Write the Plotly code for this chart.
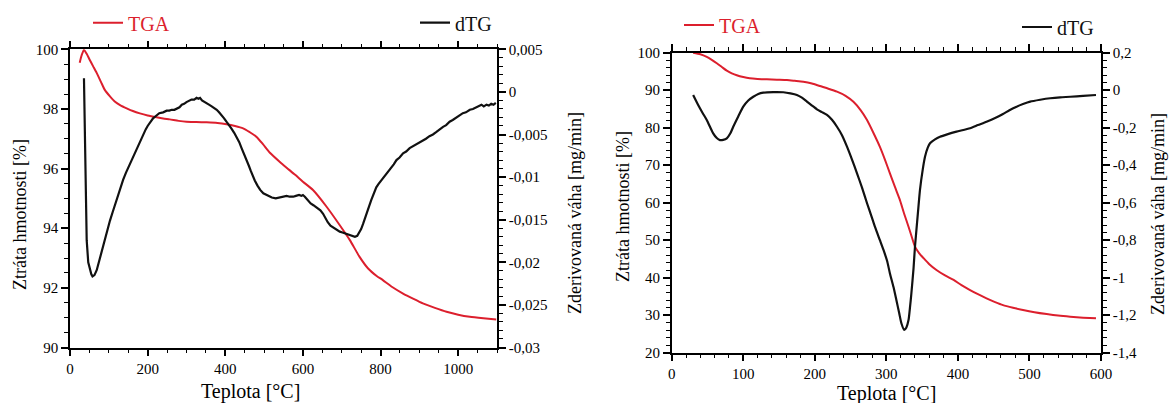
import plotly.graph_objects as go

# ---------------- data ----------------
# Left panel: temperature [°C] and TGA [%]
t_tga_left = [25, 30, 36, 43, 51, 60, 69, 80, 90, 103, 116, 130, 146, 162, 180, 200, 223, 240,
              257, 280, 300, 325, 352, 380, 403, 425, 446, 463, 480, 497, 515, 540, 558, 580,
              600, 626, 661, 695, 721, 746, 768, 790, 806, 830, 858, 885, 909, 940, 970, 1000,
              1030, 1065, 1098]
tga_left = [99.55, 99.8, 99.98, 99.85, 99.64, 99.42, 99.2, 98.9, 98.63, 98.42, 98.24, 98.12,
            98.02, 97.93, 97.85, 97.78, 97.72, 97.68, 97.65, 97.6, 97.57, 97.56, 97.55, 97.53,
            97.49, 97.43, 97.35, 97.22, 97.07, 96.82, 96.53, 96.23, 96.03, 95.79, 95.56, 95.28,
            94.72, 94.1, 93.6, 93.04, 92.65, 92.4, 92.26, 92.03, 91.81, 91.63, 91.48, 91.33,
            91.2, 91.1, 91.03, 90.98, 90.94]

# Left panel: dTG [mg/min]
t_dtg_left = [36, 40, 43, 47, 51, 55, 58, 63, 69, 78, 86, 95, 103, 110, 116, 123, 129, 137, 144,
              152, 159, 166, 174, 182, 189, 195, 200, 207, 214, 222, 230, 240, 249, 256, 262,
              269, 275, 282, 288, 294, 300, 306, 313, 320, 326, 331, 335, 340, 346, 352, 358,
              365, 372, 378, 384, 390, 397, 403, 410, 416, 423, 429, 436, 442, 449, 455, 461,
              466, 471, 476, 483, 490, 498, 506, 513, 520, 530, 540, 549, 558, 566, 575, 582,
              590, 596, 600, 605, 610, 615, 620, 627, 633, 639, 645, 652, 658, 664, 671, 677,
              683, 689, 695, 702, 708, 715, 721, 728, 734, 740, 746, 750, 755, 760, 764, 770,
              776, 782, 789, 795, 802, 808, 815, 821, 828, 834, 841, 849, 858, 866, 875, 883,
              892, 900, 909, 917, 926, 935, 944, 952, 961, 969, 978, 986, 995, 1003, 1012,
              1020, 1030, 1038, 1047, 1053, 1060, 1066, 1073, 1079, 1085, 1091, 1097]
dtg_left = [0.0016, -0.0080, -0.0174, -0.0200, -0.0209, -0.0214, -0.02165, -0.0215, -0.0209,
            -0.0193, -0.0178, -0.0163, -0.0151, -0.0141, -0.0132, -0.0121, -0.0112, -0.0103,
            -0.0095, -0.0087, -0.0080, -0.0071, -0.0063, -0.0056, -0.0049, -0.0044, -0.0040,
            -0.0035, -0.0031, -0.0028, -0.0025, -0.0024, -0.0022, -0.0022, -0.0021, -0.0021,
            -0.0020, -0.0018, -0.0015, -0.0014, -0.0012, -0.0011, -0.0009, -0.0009, -0.0007,
            -0.0008, -0.0007, -0.0010, -0.0012, -0.0014, -0.0015, -0.0017, -0.0019, -0.0021,
            -0.0024, -0.0027, -0.0031, -0.0035, -0.0039, -0.0043, -0.0048, -0.0053, -0.0059,
            -0.0066, -0.0073, -0.0080, -0.0087, -0.0093, -0.0099, -0.0104, -0.0110, -0.0115,
            -0.0119, -0.0121, -0.0123, -0.0124, -0.0125, -0.0124, -0.0123, -0.0122, -0.0123,
            -0.0123, -0.0122, -0.0121, -0.0122, -0.0121, -0.0123, -0.0126, -0.0128, -0.0131,
            -0.0133, -0.0135, -0.0136, -0.0139, -0.0143, -0.0148, -0.0153, -0.0157, -0.0159,
            -0.0161, -0.0163, -0.0164, -0.0165, -0.0166, -0.0167, -0.0168, -0.0169, -0.0170,
            -0.0169, -0.0165, -0.0161, -0.0155, -0.0149, -0.0143, -0.0135, -0.0127, -0.0119,
            -0.0112, -0.0108, -0.0104, -0.0100, -0.0096, -0.0093, -0.0088, -0.0085, -0.0080,
            -0.0077, -0.0072, -0.0070, -0.0066, -0.0064, -0.0062, -0.0060, -0.0057, -0.0055,
            -0.0052, -0.0050, -0.0047, -0.0044, -0.0041, -0.0039, -0.0035, -0.0033, -0.0030,
            -0.0028, -0.0025, -0.0024, -0.0021, -0.0020, -0.0018, -0.0017, -0.0015, -0.0017,
            -0.0015, -0.0016, -0.0014, -0.0015, -0.0013]

# Right panel: temperature [°C] and TGA [%]
t_tga_right = [30, 40, 49, 56, 63, 70, 77, 84, 91, 100, 109, 120, 133, 147, 161, 172, 184, 196,
               207, 219, 231, 243, 254, 264, 273, 282, 291, 298, 305, 312, 319, 325, 331, 336,
               340, 346, 352, 360, 370, 382, 394, 405, 417, 428, 440, 452, 463, 477, 491, 507,
               524, 540, 557, 575, 593]
tga_right = [100.0, 99.6, 98.9, 98.1, 97.2, 96.2, 95.2, 94.5, 93.97, 93.5, 93.17, 93.0, 92.9,
             92.8, 92.7, 92.5, 92.27, 91.8, 91.12, 90.4, 89.6, 88.5, 86.9, 84.7, 82.05, 78.6,
             74.9, 71.5, 67.8, 64.2, 60.7, 57.0, 53.6, 50.6, 48.3, 46.5, 45.2, 43.6, 42.05,
             40.6, 39.4, 38.0, 36.7, 35.6, 34.5, 33.5, 32.7, 32.0, 31.4, 30.8, 30.3, 29.9, 29.6,
             29.35, 29.17]

# Right panel: dTG [mg/min]
t_dtg_right = [30, 37, 43, 49, 58, 63, 67.5, 72, 77, 82, 86, 93, 100, 107, 114, 121, 128, 142,
               156, 166, 175, 182, 189, 196, 203, 210, 217, 224, 231, 238, 245, 252, 259, 266,
               273, 279, 284, 291, 296, 301, 305, 310, 314, 318, 321, 325, 328, 331, 333, 335,
               338, 340, 344, 347, 351, 354, 358, 361, 368, 375, 386, 398, 417, 428, 440, 452,
               463, 472, 482, 491, 501, 515, 529, 543, 557, 575, 593]
dtg_right = [-0.0256, -0.079, -0.12, -0.159, -0.23, -0.255, -0.266, -0.265, -0.257, -0.23,
             -0.195, -0.14, -0.088, -0.055, -0.035, -0.02, -0.013, -0.010, -0.011, -0.017,
             -0.0256, -0.04, -0.061, -0.082, -0.102, -0.117, -0.132, -0.158, -0.195, -0.24,
             -0.301, -0.37, -0.443, -0.52, -0.603, -0.67, -0.728, -0.80, -0.852, -0.91, -0.977,
             -1.05, -1.119, -1.19, -1.243, -1.279, -1.265, -1.226, -1.16, -1.083, -0.95,
             -0.835, -0.66, -0.532, -0.42, -0.355, -0.305, -0.283, -0.262, -0.248, -0.234,
             -0.221, -0.203, -0.186, -0.168, -0.148, -0.127, -0.107, -0.088, -0.074, -0.061,
             -0.051, -0.043, -0.038, -0.035, -0.030, -0.0256]

# tick labels
dtg_left_tickvals = [0.005, 0, -0.005, -0.01, -0.015, -0.02, -0.025, -0.03]
dtg_left_ticktext = ["0,005", "0", "-0,005", "-0,01", "-0,015", "-0,02", "-0,025", "-0,03"]
dtg_right_tickvals = [0.2, 0, -0.2, -0.4, -0.6, -0.8, -1.0, -1.2, -1.4]
dtg_right_ticktext = ["0,2", "0", "-0,2", "-0,4", "-0,6", "-0,8", "-1", "-1,2", "-1,4"]

x_title = "Teplota [°C]"
y_title_left = "Ztráta hmotnosti [%]"
y_title_right = "Zderivovaná váha [mg/min]"

# ---------------- figure ----------------
W, H = 1170, 403
RED = "#dc1f2d"
BLACK = "#111111"
FONT = "Liberation Serif"

fig = go.Figure()
fig.add_trace(go.Scatter(x=t_tga_left, y=tga_left, mode="lines", name="TGA",
                         line=dict(color=RED, width=2, shape="spline", smoothing=0.6),
                         xaxis="x", yaxis="y", legend="legend"))
fig.add_trace(go.Scatter(x=t_dtg_left, y=dtg_left, mode="lines", name="dTG",
                         line=dict(color=BLACK, width=2.2),
                         xaxis="x", yaxis="y2", legend="legend2"))
fig.add_trace(go.Scatter(x=t_tga_right, y=tga_right, mode="lines", name="TGA",
                         line=dict(color=RED, width=2, shape="spline", smoothing=0.6),
                         xaxis="x2", yaxis="y3", legend="legend3"))
fig.add_trace(go.Scatter(x=t_dtg_right, y=dtg_right, mode="lines", name="dTG",
                         line=dict(color=BLACK, width=2.2, shape="spline", smoothing=0.6),
                         xaxis="x2", yaxis="y4", legend="legend4"))


def px_x(p):
    return p / W


def px_y(p):
    return 1 - p / H


tickfont = dict(family=FONT, size=15, color="black")
common = dict(showgrid=False, zeroline=False, showline=True, linecolor="black", linewidth=1.5,
              ticks="outside", ticklen=7, tickwidth=1.5, tickcolor="black", tickfont=tickfont,
              automargin=False)
minor_common = dict(ticks="outside", ticklen=4, tickwidth=1.2, tickcolor="black", showgrid=False)

fig.update_layout(
    width=W, height=H, margin=dict(l=0, r=0, t=0, b=0, autoexpand=False),
    paper_bgcolor="white", plot_bgcolor="white",
    showlegend=True,
    xaxis=dict(domain=[px_x(70), px_x(497)], range=[0, 1100], tickmode="linear", tick0=0,
               dtick=200, anchor="y", mirror="ticks",
               minor=dict(dtick=50, tick0=0, **minor_common), **common),
    yaxis=dict(domain=[px_y(347.5), px_y(49.3)], range=[90, 100], tickmode="linear", tick0=90,
               dtick=2, anchor="x",
               minor=dict(dtick=0.5, tick0=90, **minor_common), **common),
    yaxis2=dict(overlaying="y", side="right", anchor="x", range=[-0.03, 0.005],
                tickmode="array", tickvals=dtg_left_tickvals, ticktext=dtg_left_ticktext,
                minor=dict(dtick=0.001, tick0=0, **minor_common), **common),
    xaxis2=dict(domain=[px_x(671.7), px_x(1101)], range=[0, 600], tickmode="linear", tick0=0,
                dtick=100, anchor="y3", mirror="ticks",
                minor=dict(dtick=20, tick0=0, **minor_common), **common),
    yaxis3=dict(domain=[px_y(352.7), px_y(52.7)], range=[20, 100], tickmode="linear", tick0=20,
                dtick=10, anchor="x2",
                minor=dict(dtick=2, tick0=20, **minor_common), **common),
    yaxis4=dict(overlaying="y3", side="right", anchor="x2", range=[-1.4, 0.2],
                tickmode="array", tickvals=dtg_right_tickvals, ticktext=dtg_right_ticktext,
                minor=dict(dtick=0.04, tick0=0, **minor_common), **common),
)

leg_common = dict(bgcolor="rgba(0,0,0,0)", borderwidth=0, xanchor="left", yanchor="middle",
                  orientation="v", itemwidth=30)
fig.update_layout(
    legend=dict(x=px_x(88), y=px_y(22.7), font=dict(family=FONT, size=20, color=RED), **leg_common),
    legend2=dict(x=px_x(415), y=px_y(22.7), font=dict(family=FONT, size=20, color=BLACK), **leg_common),
    legend3=dict(x=px_x(679), y=px_y(25), font=dict(family=FONT, size=20, color=RED), **leg_common),
    legend4=dict(x=px_x(1017), y=px_y(27), font=dict(family=FONT, size=20, color=BLACK), **leg_common),
)

title_font = dict(family=FONT, size=18, color="black")
xt_font = dict(family=FONT, size=20, color="black")
ann = [
    dict(text=x_title, x=px_x(250), y=px_y(391), font=xt_font, textangle=0),
    dict(text=x_title, x=px_x(886), y=px_y(393), font=xt_font, textangle=0),
    dict(text=y_title_left, x=px_x(20), y=px_y(215), font=title_font, textangle=-90),
    dict(text=y_title_right, x=px_x(575), y=px_y(213), font=title_font, textangle=-90),
    dict(text=y_title_left, x=px_x(623), y=px_y(207), font=title_font, textangle=-90),
    dict(text=y_title_right, x=px_x(1158), y=px_y(214), font=title_font, textangle=-90),
]
for a in ann:
    fig.add_annotation(xref="paper", yref="paper", showarrow=False, xanchor="center",
                       yanchor="middle", **a)

# remove the default page margin so the figure sits at the window's top-left corner
fig.write_html("out.html", config={"displayModeBar": False},
               post_script="document.body.style.margin='0px';")
